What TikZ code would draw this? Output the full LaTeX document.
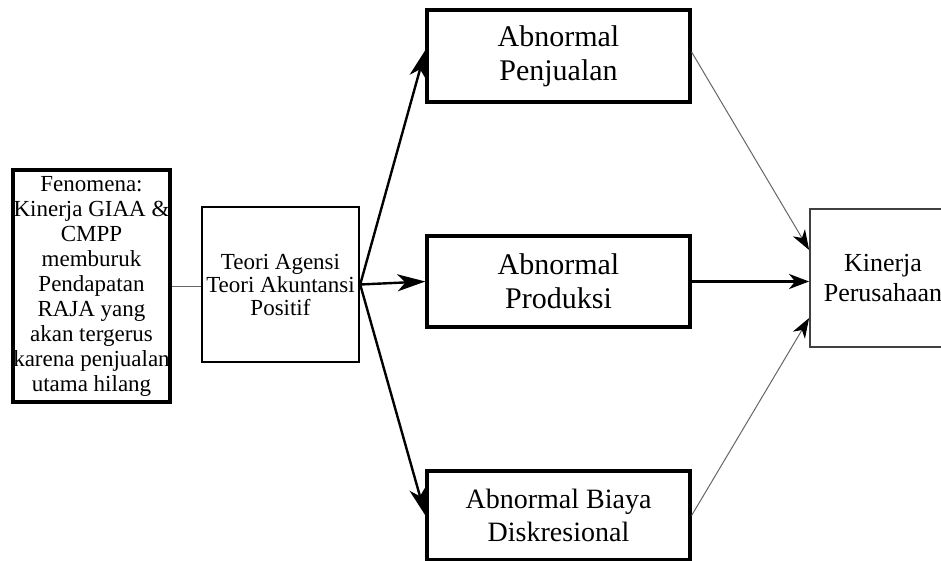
\documentclass[tikz,border=0pt]{standalone}
\usepackage{fontspec}
\setmainfont{Liberation Serif}
\usetikzlibrary{arrows.meta}

\begin{document}
\begin{tikzpicture}
[every node/.style={inner sep=0pt, align=center},
 box/.style={rectangle, draw=black, line width=3.2pt},
 softbox/.style={rectangle, draw=black!75, line width=1.8pt},
 link/.style={line width=2.4pt, color=black, -{Stealth[length=28pt, width=17pt, inset=8pt]}},
 faintlink/.style={line width=1pt, color=black!60, -{Stealth[length=20pt, width=14pt, inset=6pt, color=black]}}]
\clip (0pt, 0pt) rectangle (941pt, -561pt);
\fill [white] (0pt, 0pt) rectangle (941pt, -561pt);
\node (fen) [box, minimum width=157pt, minimum height=232pt, font=\fontsize{23}{25}\selectfont] at (91.5pt, -286.0pt) {Fenomena:\\Kinerja GIAA \&\\CMPP\\memburuk\\Pendapatan\\RAJA yang\\akan tergerus\\karena penjualan\\utama hilang};
\node (teori) [box, line width=2.4pt, minimum width=157pt, minimum height=155pt, font=\fontsize{23}{23}\selectfont] at (280.5pt, -284.5pt) {Teori Agensi\\Teori Akuntansi\\Positif};
\node (pen) [box, minimum width=263pt, minimum height=92pt, font=\fontsize{30}{34}\selectfont] at (558.5pt, -56.0pt) {Abnormal\\Penjualan};
\node (prod) [box, minimum width=263pt, minimum height=91pt, font=\fontsize{30}{34}\selectfont] at (558.5pt, -281.5pt) {Abnormal\\Produksi};
\node (biaya) [box, minimum width=263pt, minimum height=89pt, font=\fontsize{28}{33}\selectfont] at (558.5pt, -515.5pt) {Abnormal Biaya\\Diskresional};
\node (kin) [softbox, minimum width=146pt, minimum height=138pt, font=\fontsize{26}{30}\selectfont] at (883.0pt, -278.0pt) {Kinerja\\Perusahaan};
\draw [line width=1pt, color=black!60] (fen.east) -- (fen.east -| teori.west);
\draw [link] (teori.east) -- ([yshift=6pt]pen.west);
\draw [link] (teori.east) -- (prod.west);
\draw [link] (teori.east) -- (biaya.west);
\draw [faintlink] ([yshift=4pt]pen.east) -- ([yshift=28pt]kin.west);
\draw [link, -{Stealth[length=20pt, width=15pt, inset=6pt]}] (prod.east) -- (kin.west |- prod.east);
\draw [faintlink] (biaya.east) -- ([yshift=-40pt]kin.west);
\end{tikzpicture}
\end{document}
